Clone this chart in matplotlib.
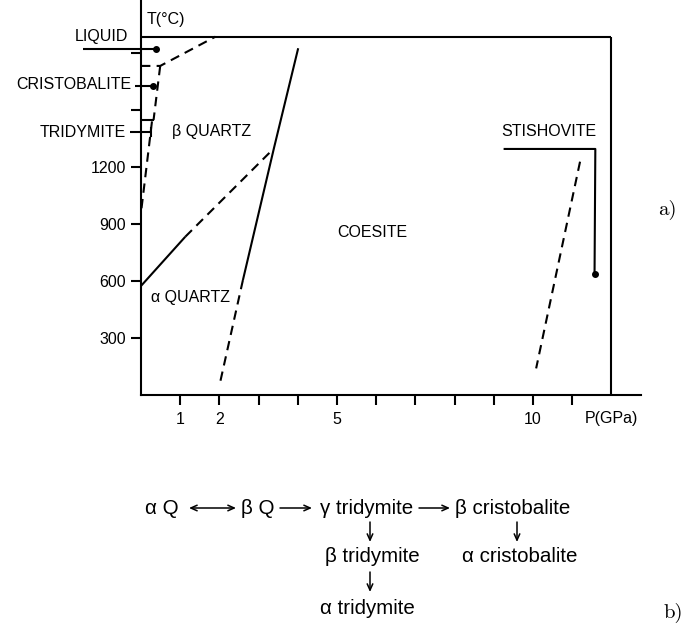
import matplotlib
matplotlib.use("Agg")
import matplotlib.pyplot as plt
from matplotlib.transforms import blended_transform_factory

plt.rcParams['font.family'] = ['Liberation Sans', 'DejaVu Sans']

# ---------------- data (P in GPa, T in degC) ----------------
P_TICKS = [1, 2, 3, 4, 5, 6, 7, 8, 9, 10, 11]
P_TICK_LABELS = ['1', '2', '', '', '5', '', '', '', '', '10', '']
T_TICKS = [300, 600, 900, 1200, 1500, 1800]
T_TICK_LABELS = ['300', '600', '900', '1200', '', '']

LIQUIDUS_P = [0, 12]
LIQUIDUS_T = [1886, 1886]
RIGHT_P = [12, 12]
RIGHT_T = [0, 1886]

CRIS_LIQ_P = [0, 0.49, 1.9]
CRIS_LIQ_T = [1732, 1732, 1886]
TRID_CRIS_P = [0.49, 0.32]
TRID_CRIS_T = [1732, 1447]
TRID_CRIS_H_P = [0, 0.32]
TRID_CRIS_H_T = [1447, 1447]
TRID_QTZ_P = [0.28, 0.0]
TRID_QTZ_T = [1440, 960]
AB_QTZ_SOLID_P = [0, 1.13]
AB_QTZ_SOLID_T = [574, 833]
AB_QTZ_DASH_P = [1.13, 3.39]
AB_QTZ_DASH_T = [833, 1298]
COE_SOLID_P = [4.01, 3.39, 2.6]
COE_SOLID_T = [1825, 1298, 605]
COE_DASH_P = [2.6, 2.02]
COE_DASH_T = [605, 68]
STI_SOLID_P = [9.25, 11.59, 11.57]
STI_SOLID_T = [1295, 1295, 637]
STI_DASH_P = [11.2, 10.08]
STI_DASH_T = [1228, 140]

LIQUID_MARK_P = [-1.47, 0.37]
LIQUID_MARK_T = [1821, 1821]
CRIS_MARK_P = [-0.16, 0.31]
CRIS_MARK_T = [1628, 1628]
TRID_MARK_P = [-0.29, 0.25]
TRID_MARK_T = [1386, 1386]

AXIS_LABELS = ['LIQUID', 'CRISTOBALITE', 'TRIDYMITE']
FIELD_LABELS = ['β QUARTZ', 'α QUARTZ', 'COESITE', 'STISHOVITE']

SEQ_ROW1 = ['α Q', 'β Q', 'γ tridymite', 'β cristobalite']
SEQ_ROW2 = ['β tridymite', 'α cristobalite']
SEQ_ROW3 = ['α tridymite']

# ---------------- figure ----------------
W, H = 684, 629
fig = plt.figure(figsize=(W / 100, H / 100), dpi=100)


def fx(x):
    return x / W


def fy(y):
    return 1 - y / H


PX_PER_GPA = 39.2
PX_PER_C = 0.19
left_px, right_px, bot_px, top_px = 141, 641, 395, 0
ax = fig.add_axes([fx(left_px), fy(bot_px), (right_px - left_px) / W, (bot_px - top_px) / H])
ax.set_xlim(0, (right_px - left_px) / PX_PER_GPA)
ax.set_ylim(0, (bot_px - top_px) / PX_PER_C)

lw = 1.5
for s in ['top', 'right']:
    ax.spines[s].set_visible(False)
for s in ['left', 'bottom']:
    ax.spines[s].set_linewidth(lw)

ax.set_xticks(P_TICKS)
ax.set_xticklabels(P_TICK_LABELS)
ax.set_yticks(T_TICKS)
ax.set_yticklabels(T_TICK_LABELS)
ax.tick_params(axis='both', direction='out', length=7.5, width=lw, labelsize=11.5)
ax.tick_params(axis='x', pad=4.5)
ax.tick_params(axis='y', pad=3.5)

dash = (0, (4.5, 3))
kw = dict(color='black', lw=lw, solid_capstyle='butt')

ax.plot(LIQUIDUS_P, LIQUIDUS_T, **kw)
ax.plot(RIGHT_P, RIGHT_T, **kw)
ax.plot(CRIS_LIQ_P, CRIS_LIQ_T, ls=dash, **kw)
ax.plot(TRID_CRIS_P, TRID_CRIS_T, ls=dash, **kw)
ax.plot(TRID_CRIS_H_P, TRID_CRIS_H_T, **kw)
ax.plot(TRID_QTZ_P, TRID_QTZ_T, ls=dash, **kw)
ax.plot(AB_QTZ_SOLID_P, AB_QTZ_SOLID_T, **kw)
ax.plot(AB_QTZ_DASH_P, AB_QTZ_DASH_T, ls=dash, **kw)
ax.plot(COE_SOLID_P, COE_SOLID_T, **kw)
ax.plot(COE_DASH_P, COE_DASH_T, ls=dash, **kw)
ax.plot(STI_SOLID_P, STI_SOLID_T, **kw)
ax.plot(STI_SOLID_P[-1:], STI_SOLID_T[-1:], 'o', color='black', ms=4, clip_on=False)
ax.plot(STI_DASH_P, STI_DASH_T, ls=dash, **kw)

# axis markers
ax.plot(LIQUID_MARK_P, LIQUID_MARK_T, clip_on=False, **kw)
ax.plot(LIQUID_MARK_P[-1:], LIQUID_MARK_T[-1:], 'o', color='black', ms=4, clip_on=False)
ax.plot(CRIS_MARK_P, CRIS_MARK_T, clip_on=False, **kw)
ax.plot(CRIS_MARK_P[-1:], CRIS_MARK_T[-1:], 'o', color='black', ms=4, clip_on=False)
ax.plot(TRID_MARK_P, TRID_MARK_T, clip_on=False, **kw)
ax.plot(TRID_MARK_P[-1:], TRID_MARK_T[-1:], '|', color='black', ms=7, mew=lw, clip_on=False)

fs = 11.5
ax.text(-0.32, 1889, AXIS_LABELS[0], ha='right', va='center', fontsize=fs)
ax.text(-0.24, 1632, AXIS_LABELS[1], ha='right', va='center', fontsize=fs)
ax.text(-0.375, 1384, AXIS_LABELS[2], ha='right', va='center', fontsize=fs)
ax.text(0.15, 1975, 'T(°C)', ha='left', va='center', fontsize=fs)

ax.text(1.81, 1386, FIELD_LABELS[0], ha='center', va='center', fontsize=fs)
ax.text(1.26, 511, FIELD_LABELS[1], ha='center', va='center', fontsize=fs)
ax.text(5.9, 853, FIELD_LABELS[2], ha='center', va='center', fontsize=fs)
ax.text(10.41, 1386, FIELD_LABELS[3], ha='center', va='center', fontsize=fs)

trans = blended_transform_factory(ax.transData, ax.transAxes)
ax.text(12, -23 / 395, 'P(GPa)', transform=trans, ha='center', va='center', fontsize=fs)

fig.text(fx(658), fy(210), 'a)', family='cmr10', fontsize=15, ha='left', va='center')

# ---------------- part b ----------------
fb = 14.8
fig.text(fx(145), fy(508), SEQ_ROW1[0], ha='left', va='center', fontsize=fb)
fig.text(fx(241), fy(508), SEQ_ROW1[1], ha='left', va='center', fontsize=fb)
fig.text(fx(320), fy(508), SEQ_ROW1[2], ha='left', va='center', fontsize=fb)
fig.text(fx(455), fy(508), SEQ_ROW1[3], ha='left', va='center', fontsize=fb)

arrow = dict(arrowstyle='->,head_length=0.45,head_width=0.2', lw=1.1, color='black',
             shrinkA=0, shrinkB=0)
arrow2 = dict(arrowstyle='<->,head_length=0.45,head_width=0.2', lw=1.1, color='black',
              shrinkA=0, shrinkB=0)


def farrow(x0, y0, x1, y1, props):
    fig.add_artist(plt.Annotation('', xy=(fx(x1), fy(y1)), xytext=(fx(x0), fy(y0)),
                                  xycoords='figure fraction', arrowprops=props))


farrow(189, 508, 236, 508, arrow2)
farrow(280, 508, 312, 508, arrow)
farrow(419, 508, 450, 508, arrow)
farrow(370, 522, 370, 542, arrow)
farrow(517, 522, 517, 542, arrow)
farrow(370, 572, 370, 592, arrow)

fig.text(fx(372), fy(557), SEQ_ROW2[0], ha='center', va='center', fontsize=fb)
fig.text(fx(520), fy(557), SEQ_ROW2[1], ha='center', va='center', fontsize=fb)
fig.text(fx(367), fy(608), SEQ_ROW3[0], ha='center', va='center', fontsize=fb)

fig.text(fx(664), fy(613), 'b)', family='cmr10', fontsize=15, ha='left', va='center')

fig.savefig('out.png', dpi=100)
